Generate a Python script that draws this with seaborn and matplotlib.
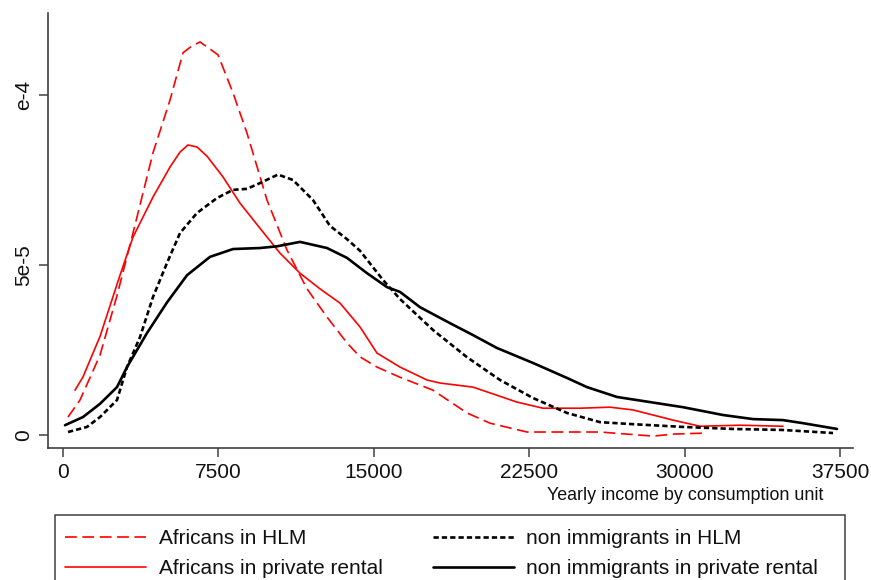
import pandas as pd
import matplotlib
matplotlib.use("Agg")
import matplotlib.pyplot as plt
import matplotlib.patches as mpatches
import seaborn as sns

# values (income, kernel density)
afr_hlm_x = [241, 820, 1786, 2606, 3378, 4344, 5164, 5792, 6177, 6612, 7481, 8205, 8880,
             9846, 10811, 11776, 12741, 13707, 14334, 15154, 16264, 17857, 19498,
             20608, 22394, 25917, 28475, 29500, 31081]
afr_hlm_y = [5.3e-6, 1.03e-5, 2.35e-5, 4.1e-5, 5.94e-5, 8.3e-5, 9.85e-5, 1.124e-4, 1.142e-4,
             1.156e-4, 1.118e-4, 1.006e-4, 8.88e-5, 6.91e-5, 5.44e-5, 4.3e-5, 3.47e-5,
             2.71e-5, 2.3e-5, 2.0e-5, 1.7e-5, 1.32e-5, 6.5e-6, 3.5e-6, 9e-7,
             9e-7, -3e-7, 3e-7, 6e-7]

afr_priv_x = [579, 965, 1786, 2751, 3378, 4344, 5164, 5646, 6033, 6467, 6950, 7722, 8542,
              9508, 10473, 11438, 12403, 13369, 14334, 15154, 16264, 17567, 18195, 19788,
              21911, 23166, 24952, 26400, 27510, 29440, 30743, 32674, 34749]
afr_priv_y = [1.32e-5, 1.71e-5, 2.9e-5, 4.7e-5, 5.82e-5, 7.0e-5, 7.88e-5, 8.32e-5, 8.53e-5,
              8.47e-5, 8.2e-5, 7.59e-5, 6.82e-5, 6.08e-5, 5.35e-5, 4.76e-5, 4.3e-5, 3.88e-5,
              3.18e-5, 2.41e-5, 2.0e-5, 1.62e-5, 1.53e-5, 1.41e-5, 9.7e-6, 7.9e-6, 7.9e-6,
              8.2e-6, 7.4e-6, 4.4e-6, 2.6e-6, 2.9e-6, 2.6e-6]

non_hlm_x = [241, 1158, 1786, 2606, 3089, 3716, 4344, 5019, 5647, 6467, 7432, 8205, 8880,
             9508, 10376, 11100, 12066, 12886, 13707, 14334, 15444, 16264, 17857, 19498,
             21091, 22683, 24324, 25917, 27510, 29923, 32336, 34749, 37162]
non_hlm_y = [9e-7, 2.4e-6, 5.3e-6, 1.03e-5, 2.0e-5, 2.88e-5, 4.06e-5, 5.06e-5, 5.94e-5,
             6.53e-5, 6.97e-5, 7.21e-5, 7.24e-5, 7.41e-5, 7.66e-5, 7.5e-5, 6.91e-5, 6.15e-5,
             5.76e-5, 5.42e-5, 4.56e-5, 4.0e-5, 3.09e-5, 2.29e-5, 1.62e-5, 1.09e-5, 6.5e-6,
             3.8e-6, 3.2e-6, 2.4e-6, 1.8e-6, 1.5e-6, 6e-7]

non_priv_x = [97, 965, 1786, 2606, 3089, 4054, 5019, 5985, 7095, 8205, 9508, 10328, 11438,
              12741, 13707, 14672, 15637, 16264, 17230, 18678, 19788, 20946, 22683, 24324,
              25289, 26737, 28330, 29923, 31853, 33301, 34749, 35714, 37355]
non_priv_y = [2.9e-6, 5.3e-6, 9.2e-6, 1.41e-5, 2.0e-5, 3.0e-5, 3.9e-5, 4.7e-5, 5.24e-5,
              5.47e-5, 5.5e-5, 5.55e-5, 5.68e-5, 5.5e-5, 5.21e-5, 4.76e-5, 4.35e-5, 4.21e-5,
              3.76e-5, 3.29e-5, 2.94e-5, 2.56e-5, 2.12e-5, 1.68e-5, 1.41e-5, 1.12e-5, 9.7e-6,
              8.2e-6, 5.9e-6, 4.7e-6, 4.4e-6, 3.5e-6, 1.8e-6]

labels = ["Africans in HLM", "Africans in private rental",
          "non immigrants in HLM", "non immigrants in private rental"]
x_ticks = [0, 7500, 15000, 22500, 30000, 37500]
y_ticks = [0, 5e-5, 1e-4]
y_ticklabels = ["0", "5e-5", "e-4"]

sns.set_style("white")
plt.rcParams['font.family'] = ['Liberation Sans', 'DejaVu Sans']
plt.rcParams['lines.scale_dashes'] = False

fig = plt.figure(figsize=(8.71, 5.80), dpi=100)
ax = fig.add_axes([48/871, 1 - 448/580, (853 - 48)/871, (448 - 13)/580])

series = [
    (afr_hlm_x, afr_hlm_y, "#ff0000", 1.2, (0, (8.5, 4.0))),
    (afr_priv_x, afr_priv_y, "#ff0000", 1.2, "-"),
    (non_hlm_x, non_hlm_y, "black", 1.9, (0, (3.8, 2.2))),
    (non_priv_x, non_priv_y, "black", 1.9, "-"),
]
for (xs, ys, col, lw, ls), lab in zip(series, labels):
    df = pd.DataFrame({"income": xs, "density": ys})
    sns.lineplot(data=df, x="income", y="density", ax=ax, color=col, lw=lw,
                 linestyle=ls, label=lab, legend=False)

ax.set_xlim(-724, 38127)
ax.set_ylim(-3.8e-6, 1.241e-4)
ax.set_xticks(x_ticks)
ax.set_xticklabels([str(t) for t in x_ticks], fontsize=15)
ax.set_yticks(y_ticks)
ax.set_yticklabels(y_ticklabels, fontsize=15, rotation=90, va="center")
ax.set_xlabel("")
ax.set_ylabel("")
ax.spines['top'].set_visible(False)
ax.spines['right'].set_visible(False)
for s in ['left', 'bottom']:
    ax.spines[s].set_color("#404040")
    ax.spines[s].set_linewidth(1.2)
ax.tick_params(axis='both', direction='out', length=6.5, width=1.1, color="#404040",
               labelcolor="#111111", pad=4, left=True, bottom=True)

fig.text(823/871, 1 - 495/580, "Yearly income by consumption unit", ha="right",
         va="center", fontsize=12.9, color="#111111")

# legend frame drawn separately, bottom edge falls outside the image
fig.patches.append(mpatches.Rectangle((55/871, -0.05), (845 - 55)/871, 1 - 515/580 + 0.05,
                                      transform=fig.transFigure, fill=False,
                                      edgecolor="#404040", lw=1.1))
handles, _ = ax.get_legend_handles_labels()
fig.legend(handles, labels, loc="upper left", bbox_to_anchor=(65/871, 1 - 529/580),
           ncol=2, frameon=False, fontsize=15, handlelength=3.9, handletextpad=0.6,
           columnspacing=2.4, labelspacing=0.55, borderpad=0, borderaxespad=0,
           labelcolor="#111111")

fig.savefig("out.png", dpi=100)
